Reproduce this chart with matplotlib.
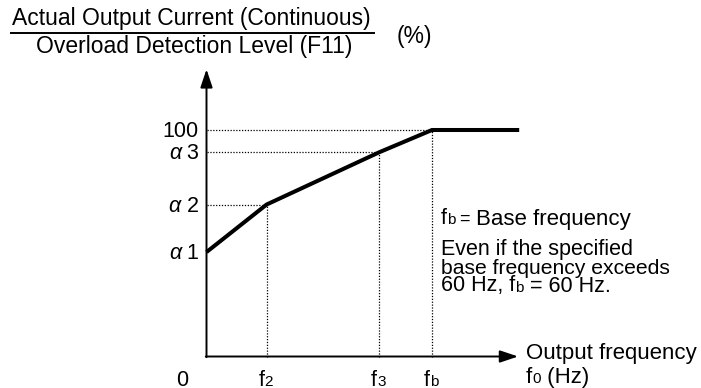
import matplotlib
matplotlib.use("Agg")
import matplotlib.pyplot as plt
from matplotlib.transforms import IdentityTransform
from matplotlib.lines import Line2D

plt.rcParams['font.family'] = ['Liberation Sans', 'DejaVu Sans']

# ---------------- data ----------------
curve_freq = [0.0, 16.0, 46.0, 60.0, 83.2]      # origin, f2, f3, fb, end of line
curve_level = [46.1, 67.1, 90.2, 100.0, 100.0]  # alpha1, alpha2, alpha3, 100, 100
mark_freq = [16.0, 46.0, 60.0]                  # f2, f3, fb
mark_level = [67.1, 90.2, 100.0]                # alpha2, alpha3, 100
mark_names = [("f", "2"), ("f", "3"), ("f", "b")]
ylabels = [(u"\u03b1", " 1"), (u"\u03b1", " 2"), (u"\u03b1", " 3"), ("", "100")]
ylabel_vals = [46.1, 67.1, 90.2, 100.0]
x_arrow_end = 82.9
y_arrow_end = 126.8

W, H = 701, 388
fig = plt.figure(figsize=(W / 100, H / 100), dpi=100)
ax = fig.add_axes([0, 0, 1, 1])
ax.axis('off')
ox, oy = 206.5, 356.5
sx = (432 - ox) / 60.0
sy = (oy - 130) / 100.0
ax.set_xlim(-ox / sx, (W - ox) / sx)
ax.set_ylim(-(H - oy) / sy, oy / sy)

FS = 15.5
FT = 16.5
SUB = 11

# curve
ax.plot(curve_freq, curve_level, color='k', lw=2.9, solid_joinstyle='miter',
        solid_capstyle='butt', zorder=5)

# dotted guides
dot = dict(color='k', lw=0.9, linestyle=(0, (1, 1.3)))
for fx, fy in zip(mark_freq, mark_level):
    ax.plot([0, fx], [fy, fy], **dot)
    ax.plot([fx, fx], [0, fy], **dot)

# axes with arrows
arr = dict(arrowstyle='-|>,head_length=1.1,head_width=0.37', color='k', lw=1.4,
           shrinkA=0, shrinkB=0, mutation_scale=10)
ax.annotate('', xy=(0, y_arrow_end), xytext=(0, -0.3), arrowprops=arr)
ax.annotate('', xy=(x_arrow_end, 0), xytext=(-0.2, 0), arrowprops=arr)

renderer = fig.canvas.get_renderer()


def rich(parts, x, y, ha='left'):
    """parts: list of (text, size, style); x,y in pixels from top-left, y=baseline"""
    texts = []
    cx = x
    for s, size, style in parts:
        if s == "":
            continue
        t = fig.text(cx, H - y, s, transform=IdentityTransform(), va='baseline',
                     ha='left', fontsize=size, fontstyle=style)
        w = t.get_window_extent(renderer).width
        texts.append(t)
        cx += w
    total = cx - x
    shift = {'left': 0, 'center': total / 2, 'right': total}[ha]
    for t in texts:
        px, py = t.get_position()
        t.set_position((px - shift, py))
    return texts


def ypx(v):
    return oy - v * sy


def xpx(v):
    return ox + v * sx


# y labels
for (g, n), v in zip(ylabels, ylabel_vals):
    rich([(g, FS, 'italic'), (n, FS, 'normal')], 199, ypx(v) + 7, ha='right')

# x labels
rich([("0", FS, 'normal')], 182.5, 385.5, ha='center')
for (a, b), fx in zip(mark_names, mark_freq):
    rich([(a, FS, 'normal'), (b, SUB, 'normal')], xpx(fx) - 1, 385.5, ha='center')

# title fraction
fig.text(191.5, H - 25.5, "Actual Output Current (Continuous)", transform=IdentityTransform(),
         ha='center', va='baseline', fontsize=FT)
fig.text(194, H - 53, "Overload Detection Level (F11)", transform=IdentityTransform(),
         ha='center', va='baseline', fontsize=FT)
fig.add_artist(Line2D([11, 374], [H - 33, H - 33], transform=IdentityTransform(),
                      color='k', lw=1.4))
fig.text(397, H - 43, "(%)", transform=IdentityTransform(), ha='left', va='baseline',
         fontsize=FT)

# notes
rich([("f", FS, 'normal'), ("b", SUB, 'normal'), (" = ", 13, 'normal'),
      ("Base frequency", FS + 0.5, 'normal')], 441, 224.5)
rich([("Even if the specified", FS, 'normal')], 441, 255.5)
rich([("base frequency exceeds", FS - 0.3, 'normal')], 441, 273.5)
rich([("60 Hz, f", FS, 'normal'), ("b", SUB, 'normal'), (" = 60 Hz.", FS, 'normal')],
     441, 291.5)

# x axis title
rich([("Output frequency", 16, 'normal')], 526, 358.5)
rich([("f", 16, 'normal'), ("0", SUB, 'normal'), (" (Hz)", 16, 'normal')], 526, 383)

fig.savefig("out.png", dpi=100)
